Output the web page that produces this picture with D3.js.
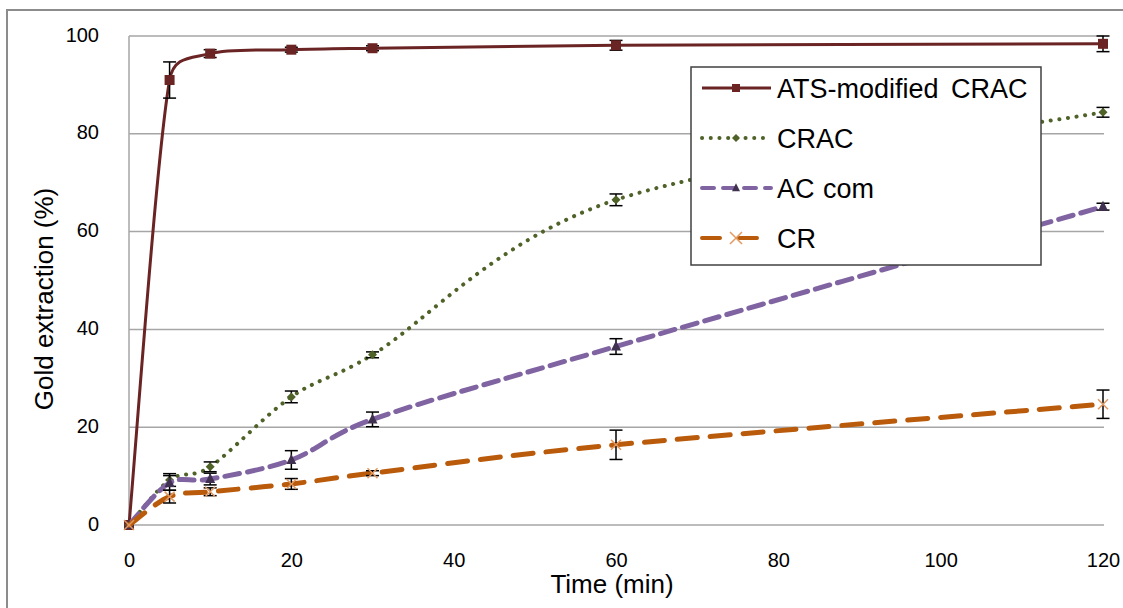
<!DOCTYPE html>
<html>
<head>
<meta charset="utf-8">
<script src="https://cdn.jsdelivr.net/npm/d3@7"></script>
<style>
  html, body { margin: 0; padding: 0; background: #fff; }
  svg { display: block; font-family: "Liberation Sans", Arial, sans-serif; }
</style>
</head>
<body>
<svg id="chart" width="1123" height="608"></svg>
<script>
// Sampling times (min)
const times = [0, 5, 10, 20, 30, 60, 120];

// Gold extraction (%) and standard deviations per adsorbent
const atsCrac    = [0, 91.0, 96.4, 97.2, 97.5, 98.1, 98.4];
const atsCracErr = [0, 3.7, 0.8, 0.5, 0.5, 1.0, 1.6];
const crac       = [0, 9.2, 11.9, 26.2, 34.8, 66.5, 84.4];
const cracErr    = [0, 1.3, 1.0, 1.2, 0.6, 1.2, 1.0];
const acCom      = [0, 8.6, 9.4, 13.3, 21.6, 36.5, 65.1];
const acComErr   = [0, 1.5, 1.2, 1.9, 1.5, 1.6, 0.7];
const cr         = [0, 5.8, 6.8, 8.4, 10.6, 16.4, 24.7];
const crErr      = [0, 1.3, 0.8, 1.1, 0.5, 3.0, 2.9];

const seriesNames = ["ATS-modified CRAC", "CRAC", "AC com", "CR"];
const xTicks = [0, 20, 40, 60, 80, 100, 120];
const yTicks = [0, 20, 40, 60, 80, 100];

const series = [
  { name: seriesNames[0], values: atsCrac, err: atsCracErr, color: "#6b2424", marker: "square",   mcolor: "#6b2424", width: 3, dash: null,      legendDash: null,      cap: "butt" },
  { name: seriesNames[1], values: crac,    err: cracErr,    color: "#4f6228", marker: "diamond",  mcolor: "#4f6228", width: 4, dash: "0.1 8.6", legendDash: "0.1 8.6", cap: "round" },
  { name: seriesNames[2], values: acCom,   err: acComErr,   color: "#8064a2", marker: "triangle", mcolor: "#403151", width: 5, dash: "15 8",    legendDash: "12 9",    cap: "round" },
  { name: seriesNames[3], values: cr,      err: crErr,      color: "#b95b0b", marker: "cross",    mcolor: "#e39a62", width: 5, dash: "20 13",   legendDash: "18 19",   cap: "round" }
];

const svg = d3.select("#chart");
const plot = { left: 129, right: 1103, top: 36, bottom: 525 };

const x = d3.scaleLinear().domain([0, 120]).range([plot.left, plot.right]);
const y = d3.scaleLinear().domain([0, 100]).range([plot.bottom, plot.top]);

// Outer chart frame
svg.append("rect")
  .attr("x", 7).attr("y", 10)
  .attr("width", 1200).attr("height", 700)
  .attr("fill", "#fff")
  .attr("stroke", "#8c8c8c").attr("stroke-width", 2);

// Horizontal gridlines
svg.append("g")
  .selectAll("line")
  .data(yTicks)
  .join("line")
  .attr("x1", plot.left).attr("x2", plot.right + 1)
  .attr("y1", d => y(d)).attr("y2", d => y(d))
  .attr("stroke", "#a6a6a6").attr("stroke-width", 1.5);

// Vertical axis line
svg.append("line")
  .attr("x1", plot.left).attr("x2", plot.left)
  .attr("y1", plot.top).attr("y2", plot.bottom)
  .attr("stroke", "#a6a6a6").attr("stroke-width", 1.5);

// Y axis tick labels
const yAxis = d3.axisLeft(y).tickValues(yTicks).tickSize(0).tickPadding(30);
const gy = svg.append("g").attr("transform", `translate(${plot.left},0)`).call(yAxis);
gy.select(".domain").remove();
gy.selectAll("text")
  .attr("font-size", 20).attr("fill", "#000")
  .attr("font-family", "Liberation Sans, Arial, sans-serif")
  .attr("dy", "0.25em");

// X axis tick labels
const xAxis = d3.axisBottom(x).tickValues(xTicks).tickSize(0).tickPadding(28);
const gx = svg.append("g").attr("transform", `translate(0,${plot.bottom})`).call(xAxis);
gx.select(".domain").remove();
gx.selectAll("text")
  .attr("font-size", 20).attr("fill", "#000")
  .attr("font-family", "Liberation Sans, Arial, sans-serif");

// Axis titles
svg.append("text")
  .attr("x", 612).attr("y", 593)
  .attr("text-anchor", "middle")
  .attr("font-size", 26).attr("fill", "#000")
  .text("Time (min)");

svg.append("text")
  .attr("transform", "translate(53,299) rotate(-90)")
  .attr("text-anchor", "middle")
  .attr("font-size", 26).attr("fill", "#000")
  .text("Gold extraction (%)");

// Marker shapes
function drawMarker(g, type, cx, cy, color, size) {
  const s = size;
  if (type === "square") {
    g.append("rect").attr("x", cx - s / 2).attr("y", cy - s / 2)
      .attr("width", s).attr("height", s).attr("fill", color);
  } else if (type === "diamond") {
    g.append("path")
      .attr("d", `M${cx},${cy - s / 2}L${cx + s / 2},${cy}L${cx},${cy + s / 2}L${cx - s / 2},${cy}Z`)
      .attr("fill", color);
  } else if (type === "triangle") {
    g.append("path")
      .attr("d", `M${cx},${cy - s * 0.6}L${cx + s / 2},${cy + s * 0.4}L${cx - s / 2},${cy + s * 0.4}Z`)
      .attr("fill", color);
  } else if (type === "cross") {
    g.append("path")
      .attr("d", `M${cx - s / 2},${cy - s / 2}L${cx + s / 2},${cy + s / 2}M${cx - s / 2},${cy + s / 2}L${cx + s / 2},${cy - s / 2}`)
      .attr("stroke", color).attr("stroke-width", 1.5).attr("fill", "none");
  }
}

const markerSize = { square: 10, diamond: 9, triangle: 10, cross: 10 };

// Spreadsheet-style smoothed line: cubic Bézier segments with tangents
// (next - previous) / 6, each handle limited to half of its segment length.
function smoothPath(pts) {
  const p = d3.path();
  const n = pts.length;
  const dist = (a, b) => Math.hypot(b[0] - a[0], b[1] - a[1]);
  const handle = (from, a, b, limit, sign) => {
    let dx = (b[0] - a[0]) / 6, dy = (b[1] - a[1]) / 6;
    const len = Math.hypot(dx, dy);
    if (len > limit && len > 0) { dx *= limit / len; dy *= limit / len; }
    return [from[0] + sign * dx, from[1] + sign * dy];
  };
  p.moveTo(pts[0][0], pts[0][1]);
  for (let i = 0; i < n - 1; i++) {
    const p0 = pts[Math.max(i - 1, 0)], p1 = pts[i], p2 = pts[i + 1], p3 = pts[Math.min(i + 2, n - 1)];
    const half = dist(p1, p2) / 2;
    const c1 = handle(p1, p0, p2, half, 1);
    const c2 = handle(p2, p1, p3, half, -1);
    p.bezierCurveTo(c1[0], c1[1], c2[0], c2[1], p2[0], p2[1]);
  }
  return p.toString();
}

series.forEach(s => {
  const pts = times.map((t, i) => ({ t, v: s.values[i], e: s.err[i] }));
  const g = svg.append("g");

  g.append("path")
    .attr("d", smoothPath(pts.map(d => [x(d.t), y(d.v)])))
    .attr("fill", "none")
    .attr("stroke", s.color)
    .attr("stroke-width", s.width)
    .attr("stroke-linecap", s.cap)
    .attr("stroke-dasharray", s.dash);

  // Error bars
  const eb = g.append("g").attr("stroke", "#000").attr("stroke-width", 1.5);
  pts.filter(d => d.e > 0).forEach(d => {
    const cx = x(d.t), y1 = y(d.v + d.e), y2 = y(d.v - d.e);
    eb.append("line").attr("x1", cx).attr("x2", cx).attr("y1", y1).attr("y2", y2);
    eb.append("line").attr("x1", cx - 6.5).attr("x2", cx + 6.5).attr("y1", y1).attr("y2", y1);
    eb.append("line").attr("x1", cx - 6.5).attr("x2", cx + 6.5).attr("y1", y2).attr("y2", y2);
  });

  pts.forEach(d => drawMarker(g, s.marker, x(d.t), y(d.v), s.mcolor, markerSize[s.marker]));
});

// Legend
const legend = svg.append("g");
legend.append("rect")
  .attr("x", 691).attr("y", 67)
  .attr("width", 350).attr("height", 198)
  .attr("fill", "#fff")
  .attr("stroke", "#404040").attr("stroke-width", 1.5);

series.forEach((s, i) => {
  const ly = 88 + i * 50;
  const lg = legend.append("g");
  lg.append("line")
    .attr("x1", 702).attr("x2", s.marker === "cross" ? 757 : 771)
    .attr("y1", ly).attr("y2", ly)
    .attr("stroke", s.color)
    .attr("stroke-width", s.width === 3 ? 3 : 4)
    .attr("stroke-linecap", s.cap)
    .attr("stroke-dasharray", s.legendDash);
  drawMarker(lg, s.marker, 736, ly, s.mcolor, s.marker === "cross" ? 12 : 8);
  lg.append("text")
    .attr("x", 777).attr("y", ly)
    .attr("dy", "0.36em")
    .attr("font-size", 27).attr("fill", "#000")
    .attr("word-spacing", i === 0 ? 5 : 1)
    .text(s.name);
});
</script>
</body>
</html>
